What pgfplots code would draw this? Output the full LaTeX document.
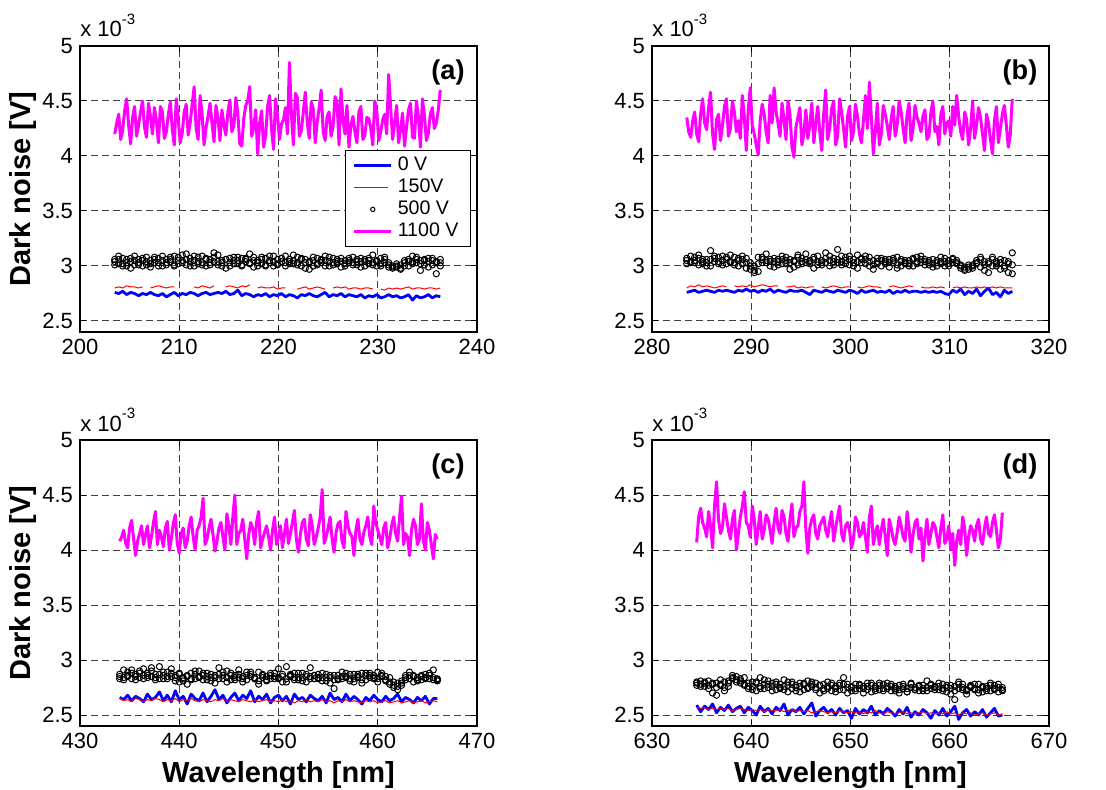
\documentclass[border=0pt]{standalone}
\usepackage{fontspec}
\setmainfont{Liberation Sans}
\usepackage{pgfplots}
\usepackage{pgfplotstable}
\pgfplotsset{compat=1.18}
\definecolor{mgt}{RGB}{255,0,255}
\definecolor{bl}{RGB}{0,0,255}
\definecolor{rd}{RGB}{255,0,0}

% columns: wavelength, 0 V, 150 V, three 500 V samples per wavelength step
\pgfplotstableread{
x b r c1 c2 c3
203.5 2.76 2.80 3.04 3.01 3.06
203.9 2.75 2.81 3.09 3.06 3.02
204.3 2.77 2.80 3.02 3.00 3.07
204.7 2.74 2.82 3.06 3.03 3.00
205.1 2.76 2.81 2.98 3.07 3.04
205.5 2.75 2.81 3.05 3.01 3.09
205.9 2.73 2.80 3.03 3.06 3.01
206.3 2.75 2.81 3.07 3.00 3.05
206.7 2.74 nan 3.01 3.04 3.08
207.1 2.76 2.80 3.05 2.99 3.02
207.5 2.74 2.81 3.08 3.03 3.06
207.9 2.73 2.82 3.03 3.07 3.00
208.3 2.75 2.81 3.00 3.05 3.09
208.7 2.72 2.80 3.06 3.01 3.03
209.1 2.74 2.81 3.04 3.08 3.06
209.5 2.76 2.81 3.09 3.00 3.01
209.9 2.73 nan 3.02 3.05 3.08
210.3 2.75 nan 3.05 3.10 3.03
210.7 2.74 nan 3.11 3.01 3.06
211.1 2.76 nan 3.04 3.07 3.00
211.5 2.75 2.81 3.00 3.05 3.09
211.9 2.73 2.80 3.08 3.02 3.04
212.3 2.75 2.82 3.03 3.09 3.01
212.7 2.76 2.81 3.06 3.00 3.07
213.1 2.74 2.80 3.01 3.06 3.03
213.5 2.75 2.82 3.04 3.12 3.08
213.9 2.76 nan 3.10 3.01 3.04
214.3 2.75 nan 3.03 3.05 3.00
214.7 2.77 2.81 3.06 2.98 3.06
215.1 2.74 2.82 3.00 3.07 3.03
215.5 2.75 2.81 3.05 3.02 3.08
215.9 2.78 2.80 3.02 3.08 3.05
216.3 2.73 2.82 3.07 3.00 3.01
216.7 2.75 2.81 3.04 3.06 3.07
217.1 2.74 2.83 3.11 3.03 3.02
217.5 2.72 nan 2.99 3.05 3.08
217.9 2.74 2.80 3.05 3.00 3.03
218.3 2.73 2.81 3.02 3.08 3.06
218.7 2.75 2.80 3.07 3.01 3.00
219.1 2.72 2.80 3.03 3.05 3.09
219.5 2.74 2.81 3.00 3.09 3.04
219.9 2.73 2.79 3.06 3.02 3.01
220.3 2.75 2.80 3.04 3.07 3.07
220.7 2.72 2.80 3.09 3.00 3.03
221.1 2.74 nan 3.02 3.04 3.06
221.5 2.73 nan 3.05 3.10 3.02
221.9 2.71 2.79 3.01 3.03 3.08
222.3 2.74 2.80 3.07 3.06 3.00
222.7 2.73 2.81 3.03 2.98 3.06
223.1 2.75 2.79 2.97 3.04 3.03
223.5 2.73 2.80 3.05 3.08 3.00
223.9 2.72 2.81 3.02 3.01 3.07
224.3 2.74 2.80 3.06 3.05 3.03
224.7 2.76 2.79 3.00 3.09 3.05
225.1 2.72 nan 3.04 3.00 3.08
225.5 2.74 2.80 3.07 3.03 3.01
225.9 2.73 2.81 3.02 3.06 3.04
226.3 2.75 2.80 2.99 3.04 3.07
226.7 2.72 2.81 3.05 3.00 3.02
227.1 2.74 2.79 3.03 3.07 3.05
227.5 2.73 2.80 3.08 3.03 3.01
227.9 2.72 2.80 3.01 3.06 3.04
228.3 2.74 2.79 3.04 2.99 3.07
228.7 2.71 2.80 3.06 3.04 3.00
229.1 2.73 2.80 3.02 3.07 3.05
229.5 2.72 2.79 3.10 3.01 3.03
229.9 2.74 nan 3.04 3.05 3.00
230.3 2.71 2.79 3.00 3.02 3.07
230.7 2.72 2.78 3.08 3.06 3.03
231.1 2.74 2.80 2.99 3.03 3.01
231.5 2.72 2.79 2.98 3.00 2.99
231.9 2.73 2.80 3.00 2.99 3.02
232.3 2.71 2.79 2.97 3.01 2.98
232.7 2.72 2.80 3.03 3.05 3.00
233.1 2.74 2.81 3.06 3.00 3.04
233.5 2.69 2.79 3.09 3.04 3.02
233.9 2.73 2.80 3.03 3.08 3.06
234.3 2.71 2.80 2.96 3.02 3.05
234.7 2.72 2.79 3.05 3.06 3.01
235.1 2.74 2.80 3.07 2.99 3.04
235.5 2.71 2.80 3.01 3.05 3.07
235.9 2.73 2.79 3.04 2.93 3.03
236.3 2.72 2.80 3.06 3.03 3.00
}\dataA

\pgfplotstableread{
x m
203.5 4.20
203.7 4.30
203.9 4.38
204.1 4.15
204.3 4.24
204.5 4.41
204.7 4.52
204.9 4.28
205.1 4.11
205.3 4.35
205.5 4.45
205.7 4.18
205.9 4.28
206.1 4.40
206.3 4.50
206.5 4.26
206.7 4.17
206.9 4.48
207.1 4.36
207.3 4.20
207.5 4.44
207.7 4.32
207.9 4.12
208.1 4.45
208.3 4.40
208.5 4.16
208.7 4.22
208.9 4.38
209.1 4.49
209.3 4.24
209.5 4.10
209.7 4.52
209.9 4.33
210.1 4.12
210.3 4.21
210.5 4.40
210.7 4.47
210.9 4.19
211.1 4.30
211.3 4.47
211.5 4.63
211.7 4.25
211.9 4.15
212.1 4.55
212.3 4.38
212.5 4.10
212.7 4.26
212.9 4.36
213.1 4.48
213.3 4.30
213.5 4.13
213.7 4.46
213.9 4.35
214.1 4.14
214.3 4.42
214.5 4.28
214.7 4.19
214.9 4.40
215.1 4.51
215.3 4.22
215.5 4.27
215.7 4.53
215.9 4.39
216.1 4.11
216.3 4.09
216.5 4.34
216.7 4.46
216.9 4.50
217.1 4.63
217.3 4.18
217.5 4.25
217.7 4.42
217.9 4.02
218.1 4.30
218.3 4.41
218.5 4.08
218.7 4.18
218.9 4.45
219.1 4.55
219.3 4.24
219.5 4.06
219.7 4.52
219.9 4.37
220.1 4.15
220.3 4.29
220.5 4.33
220.7 4.44
220.9 4.20
221.1 4.85
221.3 4.38
221.5 4.10
221.7 4.57
221.9 4.53
222.1 4.18
222.3 4.23
222.5 4.40
222.7 4.58
222.9 4.30
223.1 4.16
223.3 4.49
223.5 4.43
223.7 4.12
223.9 4.31
224.1 4.44
224.3 4.60
224.5 4.22
224.7 4.14
224.9 4.36
225.1 4.40
225.3 4.18
225.5 4.27
225.7 4.54
225.9 4.49
226.1 4.10
226.3 4.61
226.5 4.32
226.7 4.20
226.9 4.46
227.1 4.08
227.3 4.28
227.5 4.36
227.7 4.22
227.9 4.12
228.1 4.40
228.3 4.45
228.5 4.15
228.7 4.19
228.9 4.35
229.1 4.34
229.3 4.25
229.5 4.10
229.7 4.50
229.9 4.41
230.1 4.14
230.3 4.22
230.5 4.33
230.7 4.38
230.9 4.20
231.1 4.74
231.3 4.44
231.5 4.15
231.7 4.30
231.9 4.46
232.1 4.12
232.3 4.24
232.5 4.39
232.7 4.09
232.9 4.26
233.1 4.42
233.3 4.48
233.5 4.17
233.7 4.16
233.9 4.50
234.1 4.35
234.3 4.08
234.5 4.52
234.7 4.37
234.9 4.14
235.1 4.21
235.3 4.38
235.5 4.44
235.7 4.25
235.9 4.30
236.1 4.42
236.3 4.60
}\magA

\pgfplotstableread{
x b r c1 c2 c3
283.5 2.76 2.80 3.05 3.02 3.07
283.9 2.77 2.82 3.09 3.04 3.03
284.3 2.78 2.81 3.03 3.08 3.05
284.7 2.76 2.83 3.07 3.01 3.10
285.1 2.77 2.81 3.02 3.06 3.04
285.5 2.78 2.82 3.06 3.03 3.00
285.9 2.77 2.81 3.14 3.00 3.06
286.3 2.76 2.80 3.04 3.07 3.09
286.7 2.78 2.81 3.08 3.04 3.02
287.1 2.77 2.82 3.01 3.09 3.05
287.5 2.78 2.81 3.06 3.02 3.08
287.9 2.77 nan 3.03 3.10 3.04
288.3 2.76 2.82 3.08 3.03 3.01
288.7 2.78 2.81 3.05 3.00 3.07
289.1 2.77 2.82 3.02 3.06 3.09
289.5 2.79 2.81 3.07 2.98 3.03
289.9 2.77 2.83 3.00 3.03 2.97
290.3 2.78 2.81 2.96 2.94 3.00
290.7 2.76 2.82 3.08 2.95 3.02
291.1 2.78 2.83 3.03 3.06 3.08
291.5 2.77 2.82 3.05 3.11 3.03
291.9 2.79 2.81 3.00 3.04 3.06
292.3 2.76 2.82 3.07 2.99 3.04
292.7 2.78 2.82 3.04 3.06 3.01
293.1 2.77 nan 3.09 3.02 3.06
293.5 2.76 2.81 3.02 3.05 3.08
293.9 2.78 2.81 3.06 2.97 3.03
294.3 2.77 2.82 2.99 3.04 3.05
294.7 2.77 2.80 3.08 3.01 3.10
295.1 2.78 2.81 3.04 3.07 3.02
295.5 2.76 2.80 3.11 3.03 3.06
295.9 2.74 2.81 3.02 3.05 3.04
296.3 2.78 2.81 3.06 2.98 3.08
296.7 2.77 nan 3.09 3.04 3.01
297.1 2.76 2.81 3.03 3.01 3.05
297.5 2.78 2.80 3.12 3.07 3.03
297.9 2.77 2.81 3.00 3.05 3.09
298.3 2.76 2.82 3.07 3.01 3.04
298.7 2.78 2.81 3.15 3.03 3.06
299.1 2.77 2.80 3.04 3.09 3.01
299.5 2.76 2.81 3.08 3.02 3.05
299.9 2.78 2.81 3.01 3.06 3.09
300.3 2.77 nan 3.06 3.03 3.00
300.7 2.75 2.81 3.10 2.98 3.04
301.1 2.78 2.80 3.03 3.07 3.06
301.5 2.76 2.81 3.06 3.02 3.09
301.9 2.77 2.82 3.00 3.08 3.04
302.3 2.78 2.81 3.05 2.97 3.01
302.7 2.76 2.81 3.02 3.04 3.07
303.1 2.77 2.80 3.07 3.00 3.05
303.5 2.76 nan 3.04 3.06 3.02
303.9 2.78 2.81 2.99 3.03 3.06
304.3 2.75 2.82 3.05 3.07 3.03
304.7 2.77 2.81 3.01 2.98 3.08
305.1 2.76 2.80 3.06 3.04 3.00
305.5 2.78 2.81 3.03 3.02 3.05
305.9 2.76 2.82 3.00 3.05 3.02
306.3 2.77 2.81 3.07 3.00 3.06
306.7 2.77 nan 3.02 3.04 3.08
307.1 2.76 2.81 3.09 3.06 3.03
307.5 2.77 2.80 3.04 3.01 3.06
307.9 2.76 2.80 3.01 3.05 3.03
308.3 2.77 2.81 3.06 3.02 2.99
308.7 2.76 2.80 3.03 3.00 3.05
309.1 2.77 2.81 3.08 3.04 3.02
309.5 2.75 2.80 3.00 3.07 3.04
309.9 2.74 nan 3.05 3.02 3.00
310.3 2.78 2.80 3.07 3.03 3.06
310.7 2.76 2.81 3.02 3.05 3.03
311.1 2.79 2.80 2.98 3.01 3.00
311.5 2.74 2.81 2.97 2.96 2.99
311.9 2.77 2.80 2.99 2.97 3.01
312.3 2.75 2.80 3.00 3.01 2.98
312.7 2.79 2.81 3.03 3.05 3.02
313.1 2.73 2.80 3.08 2.99 3.06
313.5 2.77 2.81 2.96 3.04 3.01
313.9 2.80 2.80 3.02 2.94 3.04
314.3 2.74 2.81 3.06 3.00 3.08
314.7 2.76 2.80 3.00 3.04 3.02
315.1 2.72 2.81 3.03 2.97 3.06
315.5 2.78 2.80 2.98 3.05 3.00
315.9 2.75 2.80 3.02 2.94 3.04
316.3 2.77 2.80 3.12 2.93 3.01
}\dataB

\pgfplotstableread{
x m
283.5 4.35
283.7 4.22
283.9 4.17
284.1 4.32
284.3 4.40
284.5 4.20
284.7 4.13
284.9 4.38
285.1 4.52
285.3 4.30
285.5 4.24
285.7 4.44
285.9 4.58
286.1 4.20
286.3 4.06
286.5 4.33
286.7 4.38
286.9 4.14
287.1 4.28
287.3 4.45
287.5 4.52
287.7 4.18
287.9 4.25
288.1 4.50
288.3 4.40
288.5 4.22
288.7 4.32
288.9 4.16
289.1 4.55
289.3 4.36
289.5 4.05
289.7 4.43
289.9 4.62
290.1 4.28
290.3 4.20
290.5 4.10
290.7 4.01
290.9 4.32
291.1 4.47
291.3 4.38
291.5 4.22
291.7 4.12
291.9 4.55
292.1 4.30
292.3 4.62
292.5 4.40
292.7 4.30
292.9 4.18
293.1 4.48
293.3 4.33
293.5 4.15
293.7 4.50
293.9 4.38
294.1 4.08
294.3 3.99
294.5 4.26
294.7 4.35
294.9 4.44
295.1 4.10
295.3 4.20
295.5 4.42
295.7 4.16
295.9 4.28
296.1 4.48
296.3 4.12
296.5 4.30
296.7 4.45
296.9 4.22
297.1 4.05
297.3 4.38
297.5 4.60
297.7 4.15
297.9 4.25
298.1 4.43
298.3 4.50
298.5 4.10
298.7 4.18
298.9 4.52
299.1 4.40
299.3 4.25
299.5 4.08
299.7 4.36
299.9 4.45
300.1 4.14
300.3 4.22
300.5 4.47
300.7 4.36
300.9 4.20
301.1 4.12
301.3 4.32
301.5 4.55
301.7 4.25
301.9 4.67
302.1 4.35
302.3 4.02
302.5 4.22
302.7 4.48
302.9 4.10
303.1 4.20
303.3 4.46
303.5 4.38
303.7 4.28
303.9 4.15
304.1 4.34
304.3 4.45
304.5 4.18
304.7 4.28
304.9 4.50
305.1 4.40
305.3 4.25
305.5 4.12
305.7 4.38
305.9 4.48
306.1 4.14
306.3 4.25
306.5 4.46
306.7 4.35
306.9 4.30
307.1 4.22
307.3 4.36
307.5 4.42
307.7 4.15
307.9 4.18
308.1 4.40
308.3 4.50
308.5 4.22
308.7 4.27
308.9 4.10
309.1 4.38
309.3 4.45
309.5 4.20
309.7 4.30
309.9 4.32
310.1 4.18
310.3 4.45
310.5 4.28
310.7 4.55
310.9 4.36
311.1 4.22
311.3 4.15
311.5 4.40
311.7 4.33
311.9 4.10
312.1 4.25
312.3 4.50
312.5 4.16
312.7 4.28
312.9 4.44
313.1 4.35
313.3 4.20
313.5 4.05
313.7 4.38
313.9 4.30
314.1 4.15
314.3 4.02
314.5 4.32
314.7 4.45
314.9 4.12
315.1 4.25
315.3 4.38
315.5 4.46
315.7 4.28
315.9 4.08
316.1 4.20
316.3 4.52
}\magB

\pgfplotstableread{
x b r c1 c2 c3
434.0 2.66 2.65 2.83 2.85 2.87
434.4 2.64 2.63 2.91 2.82 2.84
434.8 2.68 2.64 2.85 2.89 2.86
435.2 2.63 2.62 2.88 2.83 2.91
435.6 2.67 2.65 2.82 2.87 2.85
436.0 2.65 2.64 2.90 2.84 2.88
436.4 2.62 2.62 2.86 2.92 2.83
436.8 2.69 2.64 2.84 2.88 2.86
437.2 2.64 2.63 2.93 2.85 2.90
437.6 2.66 2.65 2.87 2.82 2.84
438.0 2.71 2.64 2.83 2.94 2.87
438.4 2.63 2.62 2.89 2.86 2.83
438.8 2.68 2.64 2.85 2.83 2.89
439.2 2.62 2.63 2.92 2.88 2.85
439.6 2.72 2.65 2.86 2.84 2.81
440.0 2.64 2.62 2.80 2.87 2.88
440.4 2.67 2.64 2.84 2.81 2.83
440.8 2.60 2.63 2.78 2.86 2.85
441.2 2.69 2.65 2.88 2.83 2.82
441.6 2.65 2.63 2.83 2.90 2.87
442.0 2.63 2.62 2.90 2.85 2.84
442.4 2.70 2.64 2.86 2.82 2.88
442.8 2.62 2.63 2.82 2.88 2.85
443.2 2.67 2.62 2.87 2.84 2.81
443.6 2.73 2.64 2.84 2.79 2.86
444.0 2.64 2.63 2.93 2.87 2.83
444.4 2.68 2.65 2.86 2.83 2.89
444.8 2.61 2.62 2.80 2.90 2.84
445.2 2.66 2.64 2.88 2.82 2.86
445.6 2.70 2.63 2.84 2.86 2.82
446.0 2.63 2.62 2.91 2.84 2.87
446.4 2.68 2.64 2.85 2.80 2.83
446.8 2.65 2.63 2.82 2.89 2.86
447.2 2.72 2.62 2.87 2.85 2.89
447.6 2.62 2.64 2.83 2.83 2.84
448.0 2.67 2.62 2.89 2.78 2.81
448.4 2.64 2.63 2.84 2.86 2.87
448.8 2.69 2.64 2.81 2.82 2.85
449.2 2.61 2.62 2.86 2.88 2.83
449.6 2.66 2.63 2.83 2.85 2.88
450.0 2.68 2.62 2.92 2.83 2.84
450.4 2.63 2.64 2.85 2.80 2.87
450.8 2.67 2.62 2.80 2.94 2.83
451.2 2.60 2.63 2.87 2.86 2.85
451.6 2.69 2.61 2.84 2.82 2.88
452.0 2.64 2.63 2.82 2.88 2.84
452.4 2.66 2.62 2.88 2.84 2.81
452.8 2.62 2.64 2.85 2.80 2.87
453.2 2.68 2.62 2.93 2.85 2.83
453.6 2.65 2.63 2.86 2.83 2.86
454.0 2.63 2.62 2.83 2.87 2.84
454.4 2.67 2.64 2.88 2.84 2.81
454.8 2.61 2.62 2.84 2.81 2.87
455.2 2.70 2.63 2.79 2.86 2.84
455.6 2.64 2.61 2.86 2.74 2.82
456.0 2.66 2.63 2.83 2.82 2.86
456.4 2.62 2.62 2.89 2.85 2.83
456.8 2.69 2.64 2.85 2.88 2.84
457.2 2.63 2.62 2.81 2.83 2.87
457.6 2.67 2.63 2.87 2.80 2.83
458.0 2.64 2.62 2.84 2.87 2.85
458.4 2.60 2.61 2.88 2.79 2.82
458.8 2.66 2.63 2.82 2.86 2.88
459.2 2.63 2.62 2.86 2.88 2.84
459.6 2.68 2.63 2.83 2.84 2.86
460.0 2.64 2.61 2.89 2.80 2.83
460.4 2.62 2.62 2.85 2.86 2.88
460.8 2.67 2.63 2.82 2.81 2.85
461.2 2.63 2.61 2.78 2.84 2.80
461.6 2.65 2.62 2.80 2.75 2.77
462.0 2.69 2.63 2.76 2.73 2.79
462.4 2.62 2.61 2.79 2.77 2.81
462.8 2.66 2.62 2.82 2.84 2.86
463.2 2.64 2.63 2.89 2.86 2.83
463.6 2.61 2.61 2.85 2.80 2.86
464.0 2.66 2.62 2.81 2.84 2.82
464.4 2.63 2.63 2.86 2.82 2.85
464.8 2.67 2.61 2.84 2.87 2.83
465.2 2.60 2.62 2.88 2.83 2.86
465.6 2.65 2.63 2.82 2.91 2.84
466.0 2.65 2.62 2.83 2.81 2.82
}\dataC

\pgfplotstableread{
x m
434.0 4.08
434.2 4.12
434.4 4.18
434.6 4.06
434.8 4.02
435.0 4.20
435.2 4.27
435.4 4.10
435.6 3.95
435.8 4.08
436.0 4.15
436.2 4.22
436.4 4.05
436.6 4.14
436.8 4.22
437.0 4.02
437.2 4.12
437.4 4.25
437.6 4.35
437.8 4.05
438.0 4.18
438.2 4.12
438.4 4.03
438.6 4.20
438.8 4.26
439.0 4.00
439.2 4.10
439.4 4.24
439.6 4.32
439.8 4.06
440.0 3.97
440.2 4.15
440.4 4.20
440.6 4.02
440.8 4.08
441.0 4.22
441.2 4.30
441.4 4.12
441.6 4.00
441.8 4.18
442.0 4.22
442.2 4.30
442.4 4.47
442.6 4.05
442.8 4.10
443.0 4.20
443.2 4.28
443.4 4.14
443.6 3.99
443.8 4.08
444.0 4.20
444.2 4.25
444.4 4.12
444.6 4.00
444.8 4.33
445.0 4.22
445.2 4.05
445.4 4.30
445.6 4.50
445.8 4.05
446.0 4.15
446.2 4.18
446.4 4.28
446.6 4.10
446.8 3.92
447.0 4.14
447.2 4.25
447.4 4.20
447.6 4.05
447.8 4.26
448.0 4.35
448.2 4.02
448.4 4.10
448.6 4.16
448.8 4.22
449.0 4.12
449.2 4.00
449.4 4.18
449.6 4.30
449.8 4.05
450.0 4.12
450.2 4.22
450.4 4.02
450.6 4.15
450.8 4.28
451.0 4.06
451.2 4.15
451.4 4.25
451.6 4.36
451.8 4.10
452.0 3.98
452.2 4.14
452.4 4.25
452.6 4.28
452.8 4.10
453.0 4.04
453.2 4.32
453.4 4.22
453.6 4.05
453.8 4.12
454.0 4.20
454.2 4.30
454.4 4.55
454.6 4.06
454.8 4.12
455.0 4.20
455.2 4.30
455.4 4.10
455.6 3.98
455.8 4.16
456.0 4.24
456.2 4.26
456.4 4.08
456.6 4.02
456.8 4.35
457.0 4.22
457.2 4.15
457.4 4.12
457.6 3.95
457.8 4.18
458.0 4.28
458.2 4.10
458.4 4.05
458.6 4.16
458.8 4.22
459.0 4.30
459.2 4.12
459.4 4.05
459.6 4.40
459.8 4.25
460.0 4.18
460.2 4.12
460.4 4.05
460.6 4.20
460.8 4.25
461.0 4.02
461.2 4.10
461.4 4.22
461.6 4.30
461.8 4.15
462.0 4.08
462.2 4.30
462.4 4.49
462.6 4.05
462.8 4.15
463.0 4.12
463.2 3.95
463.4 4.18
463.6 4.28
463.8 4.22
464.0 4.05
464.2 4.10
464.4 4.42
464.6 4.08
464.8 4.00
465.0 4.25
465.2 4.18
465.4 4.05
465.6 3.92
465.8 4.14
466.0 4.10
}\magC

\pgfplotstableread{
x b r c1 c2 c3
634.5 2.59 2.57 2.80 2.77 2.79
634.9 2.53 2.56 2.78 2.81 2.76
635.3 2.58 2.57 2.76 2.79 2.80
635.7 2.55 2.55 2.81 2.74 2.77
636.1 2.60 2.56 2.70 2.78 2.79
636.5 2.52 2.55 2.79 2.68 2.75
636.9 2.57 2.56 2.77 2.82 2.78
637.3 2.54 2.55 2.80 2.75 2.72
637.7 2.59 2.56 2.76 2.79 2.81
638.1 2.53 2.54 2.83 2.86 2.84
638.5 2.56 2.55 2.85 2.82 2.80
638.9 2.58 2.56 2.81 2.79 2.83
639.3 2.52 2.55 2.78 2.84 2.77
639.7 2.57 2.54 2.74 2.76 2.79
640.1 2.54 2.55 2.80 2.73 2.76
640.5 2.50 2.54 2.72 2.79 2.80
640.9 2.58 2.55 2.76 2.84 2.74
641.3 2.53 2.53 2.82 2.74 2.78
641.7 2.56 2.55 2.75 2.78 2.81
642.1 2.51 2.54 2.79 2.72 2.76
642.5 2.57 2.54 2.73 2.80 2.78
642.9 2.54 2.55 2.78 2.74 2.75
643.3 2.60 2.53 2.76 2.82 2.73
643.7 2.50 2.54 2.80 2.71 2.77
644.1 2.55 2.55 2.74 2.78 2.80
644.5 2.53 2.53 2.77 2.75 2.72
644.9 2.57 2.54 2.71 2.79 2.76
645.3 2.51 2.53 2.79 2.73 2.78
645.7 2.56 2.54 2.75 2.81 2.74
646.1 2.61 2.52 2.78 2.76 2.80
646.5 2.49 2.53 2.73 2.79 2.75
646.9 2.54 2.54 2.77 2.70 2.77
647.3 2.57 2.53 2.74 2.78 2.72
647.7 2.52 2.52 2.80 2.74 2.76
648.1 2.55 2.53 2.72 2.77 2.79
648.5 2.50 2.52 2.76 2.71 2.74
648.9 2.56 2.54 2.73 2.79 2.77
649.3 2.52 2.53 2.78 2.84 2.73
649.7 2.54 2.52 2.70 2.75 2.78
650.1 2.47 2.53 2.75 2.72 2.76
650.5 2.56 2.52 2.72 2.78 2.74
650.9 2.51 2.53 2.77 2.74 2.78
651.3 2.55 2.51 2.74 2.70 2.76
651.7 2.52 2.53 2.79 2.76 2.73
652.1 2.58 2.52 2.71 2.79 2.77
652.5 2.50 2.54 2.76 2.72 2.74
652.9 2.54 2.52 2.73 2.77 2.79
653.3 2.51 2.51 2.78 2.74 2.72
653.7 2.56 2.53 2.74 2.79 2.76
654.1 2.53 2.52 2.72 2.76 2.78
654.5 2.49 2.51 2.76 2.72 2.74
654.9 2.55 2.52 2.73 2.77 2.70
655.3 2.51 2.53 2.78 2.74 2.76
655.7 2.57 2.51 2.71 2.71 2.74
656.1 2.48 2.52 2.75 2.78 2.79
656.5 2.53 2.51 2.73 2.75 2.73
656.9 2.50 2.52 2.77 2.72 2.76
657.3 2.55 2.53 2.72 2.77 2.74
657.7 2.52 2.51 2.75 2.81 2.72
658.1 2.47 2.52 2.78 2.74 2.77
658.5 2.54 2.51 2.73 2.76 2.75
658.9 2.50 2.52 2.76 2.73 2.79
659.3 2.56 2.51 2.74 2.78 2.72
659.7 2.49 2.53 2.71 2.75 2.77
660.1 2.53 2.51 2.77 2.69 2.74
660.5 2.58 2.52 2.64 2.76 2.72
660.9 2.46 2.50 2.74 2.80 2.78
661.3 2.52 2.52 2.78 2.73 2.75
661.7 2.55 2.51 2.72 2.69 2.73
662.1 2.49 2.52 2.76 2.77 2.75
662.5 2.53 2.50 2.73 2.74 2.78
662.9 2.50 2.51 2.70 2.78 2.73
663.3 2.55 2.52 2.75 2.71 2.76
663.7 2.48 2.50 2.72 2.76 2.74
664.1 2.52 2.51 2.77 2.79 2.72
664.5 2.56 2.52 2.73 2.74 2.77
664.9 2.49 2.50 2.71 2.78 2.75
665.3 2.50 2.51 2.75 2.72 2.73
}\dataD

\pgfplotstableread{
x m
634.5 4.07
634.7 4.30
634.9 4.38
635.1 4.25
635.3 4.20
635.5 4.12
635.7 4.35
635.9 4.22
636.1 4.02
636.3 4.40
636.5 4.62
636.7 4.28
636.9 4.15
637.1 4.20
637.3 4.42
637.5 4.30
637.7 4.18
637.9 4.10
638.1 4.28
638.3 4.36
638.5 4.00
638.7 4.15
638.9 4.30
639.1 4.40
639.3 4.53
639.5 4.25
639.7 4.22
639.9 4.12
640.1 4.40
640.3 4.28
640.5 4.05
640.7 4.20
640.9 4.35
641.1 4.10
641.3 4.18
641.5 4.32
641.7 4.28
641.9 4.18
642.1 4.06
642.3 4.25
642.5 4.38
642.7 4.20
642.9 4.15
643.1 4.36
643.3 4.30
643.5 4.15
643.7 4.08
643.9 4.28
644.1 4.42
644.3 4.12
644.5 4.20
644.7 4.22
644.9 4.35
645.1 4.40
645.3 4.62
645.5 4.18
645.7 3.97
645.9 4.20
646.1 4.28
646.3 4.32
646.5 4.15
646.7 4.10
646.9 4.22
647.1 4.26
647.3 4.30
647.5 4.18
647.7 4.12
647.9 4.25
648.1 4.35
648.3 4.08
648.5 4.20
648.7 4.30
648.9 4.40
649.1 4.15
649.3 4.08
649.5 4.22
649.7 4.25
649.9 4.18
650.1 4.02
650.3 4.10
650.5 4.30
650.7 4.25
650.9 4.12
651.1 4.15
651.3 4.25
651.5 4.12
651.7 3.98
651.9 4.30
652.1 4.40
652.3 4.05
652.5 4.15
652.7 4.22
652.9 4.05
653.1 4.18
653.3 4.28
653.5 4.12
653.7 3.95
653.9 4.28
654.1 4.20
654.3 4.10
654.5 4.05
654.7 4.16
654.9 4.30
655.1 4.22
655.3 4.12
655.5 4.08
655.7 4.35
655.9 4.20
656.1 3.98
656.3 4.14
656.5 4.25
656.7 4.28
656.9 4.10
657.1 4.20
657.3 3.90
657.5 4.12
657.7 4.28
657.9 4.05
658.1 4.15
658.3 4.25
658.5 4.22
658.7 4.12
658.9 4.02
659.1 4.20
659.3 4.32
659.5 4.06
659.7 4.10
659.9 4.22
660.1 4.00
660.3 4.15
660.5 3.86
660.7 4.08
660.9 4.18
661.1 4.05
661.3 4.30
661.5 4.20
661.7 3.95
661.9 4.12
662.1 4.22
662.3 4.18
662.5 4.08
662.7 4.22
662.9 4.28
663.1 4.10
663.3 4.05
663.5 4.20
663.7 4.30
663.9 4.15
664.1 4.12
664.3 4.25
664.5 4.32
664.7 4.18
664.9 4.02
665.1 4.10
665.3 4.34
}\magD

\pgfplotsset{
  panel/.style={
    scale only axis, width=198.5pt, height=143pt,
    ymin=2.4, ymax=5, ytick={2.5,3,3.5,4,4.5,5},
    grid=major,
    grid style={black!75, line width=0.5pt, dash pattern=on 3.5pt off 2pt},
    tick align=inside, major tick length=3pt,
    tick style={black, line width=0.5pt},
    axis line style={black, line width=0.8pt},
    ticklabel style={font=\fontsize{11}{13}\selectfont},
    /pgf/number format/assume math mode=true,
    unbounded coords=jump,
    clip mode=individual,
    legend cell align=left,
    ylabel style={font=\fontsize{14.5}{16}\bfseries, at={(axis description cs:-0.143,0.5)}, anchor=center},
    xlabel style={font=\fontsize{14.5}{16}\bfseries, at={(axis description cs:0.5,-0.17)}, anchor=center},
  },
  sblue/.style={bl, line width=1.4pt, line join=round,
    legend image code/.code={\draw[draw=bl, line width=1.4pt] (0pt,0pt) -- (18.5pt,0pt);}},
  sred/.style={color=rd, line width=0.5pt, line join=round,
    legend image post style={line width=0.8pt, color=rd}},
  scirc/.style={black, only marks, mark=o, mark size=1.55pt, mark options={line width=0.5pt},
    legend image code/.code={\draw[##1, mark size=1.1pt] plot coordinates {(9.25pt,0pt)};}},
  smag/.style={mgt, line width=1.5pt, line join=round,
    legend image code/.code={\draw[draw=mgt, line width=1.5pt] (0pt,0pt) -- (18.5pt,0pt);}},
}
\newcommand{\tenexp}{\node[anchor=base west, font=\fontsize{11}{13}\selectfont, inner sep=0pt] at ([yshift=4.5pt]rel axis cs:0,1) {x 10\raisebox{0.55em}{\fontsize{7.5}{9}\selectfont -3}};}
\newcommand{\panellabel}[1]{\node[font=\fontsize{13.6}{15}\bfseries] at (rel axis cs:0.927,0.906) {#1};}

\begin{document}
\begin{tikzpicture}
\path[use as bounding box] (0,0) rectangle (553pt,-395pt);

\begin{axis}[panel, at={(40pt,-166pt)}, anchor=south west,
  xmin=200, xmax=240, xtick={200,210,220,230,240},
  ylabel={Dark noise [V]},
  legend style={at={(0.985,0.636)}, anchor=north east, draw=black, line width=0.6pt,
    font=\fontsize{9.8}{11}\selectfont, row sep=1pt, inner xsep=3.5pt, inner ysep=2.5pt,
    nodes={inner ysep=0.8pt, inner xsep=2.5pt}}]
\addplot[sblue] table[x=x,y=b]{\dataA};
\addlegendentry{0 V}
\addplot[sred] table[x=x,y=r]{\dataA};
\addlegendentry{150V}
\addplot[scirc] table[x=x,y=c1]{\dataA};
\addlegendentry{500 V}
\addplot[scirc, forget plot] table[x=x,y=c2]{\dataA};
\addplot[scirc, forget plot] table[x=x,y=c3]{\dataA};
\addplot[smag] table[x=x,y=m]{\magA};
\addlegendentry{1100 V}
\tenexp
\panellabel{(a)}
\end{axis}

\begin{axis}[panel, at={(326pt,-166pt)}, anchor=south west,
  xmin=280, xmax=320, xtick={280,290,300,310,320}]
\addplot[sblue] table[x=x,y=b]{\dataB};
\addplot[sred] table[x=x,y=r]{\dataB};
\addplot[scirc] table[x=x,y=c1]{\dataB};
\addplot[scirc] table[x=x,y=c2]{\dataB};
\addplot[scirc] table[x=x,y=c3]{\dataB};
\addplot[smag] table[x=x,y=m]{\magB};
\tenexp
\panellabel{(b)}
\end{axis}

\begin{axis}[panel, at={(40pt,-363pt)}, anchor=south west,
  xmin=430, xmax=470, xtick={430,440,450,460,470},
  ylabel={Dark noise [V]}, xlabel={Wavelength [nm]}]
\addplot[sblue] table[x=x,y=b]{\dataC};
\addplot[sred] table[x=x,y=r]{\dataC};
\addplot[scirc] table[x=x,y=c1]{\dataC};
\addplot[scirc] table[x=x,y=c2]{\dataC};
\addplot[scirc] table[x=x,y=c3]{\dataC};
\addplot[smag] table[x=x,y=m]{\magC};
\tenexp
\panellabel{(c)}
\end{axis}

\begin{axis}[panel, at={(326pt,-363pt)}, anchor=south west,
  xmin=630, xmax=670, xtick={630,640,650,660,670},
  xlabel={Wavelength [nm]}]
\addplot[sblue] table[x=x,y=b]{\dataD};
\addplot[sred] table[x=x,y=r]{\dataD};
\addplot[scirc] table[x=x,y=c1]{\dataD};
\addplot[scirc] table[x=x,y=c2]{\dataD};
\addplot[scirc] table[x=x,y=c3]{\dataD};
\addplot[smag] table[x=x,y=m]{\magD};
\tenexp
\panellabel{(d)}
\end{axis}
\end{tikzpicture}
\end{document}
